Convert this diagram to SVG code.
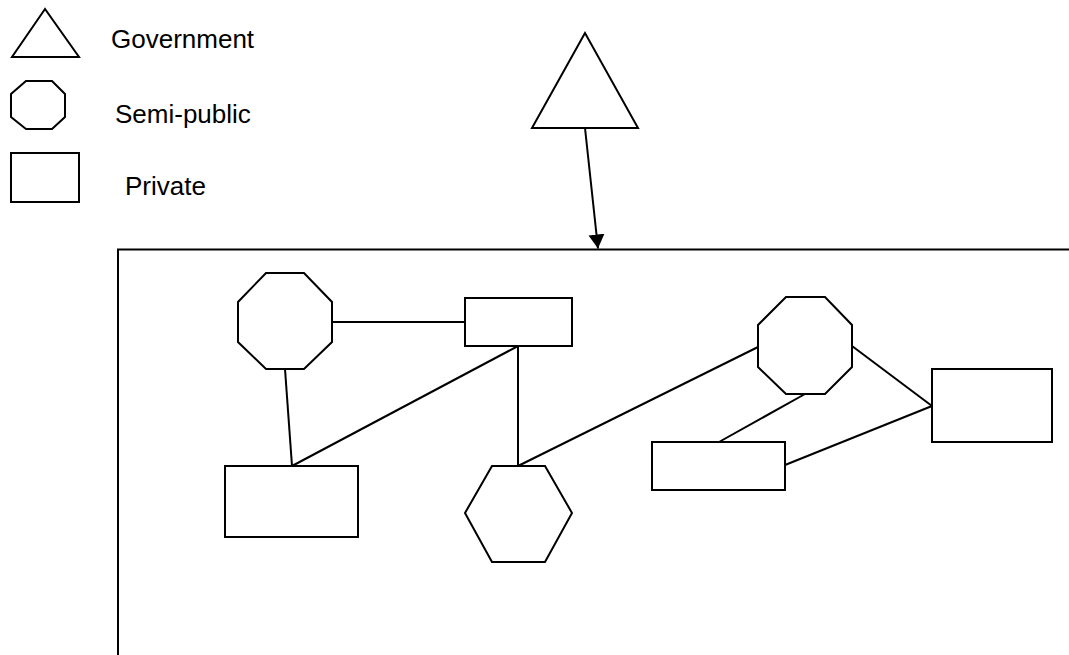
<svg xmlns="http://www.w3.org/2000/svg" width="1069" height="655" viewBox="0 0 1069 655">
<style>
.s{fill:#fff;stroke:#000;stroke-width:2;stroke-linejoin:miter}
.c{stroke:#000;stroke-width:2;fill:none}
.t{font-family:"Liberation Sans",Arial,sans-serif;font-size:26px;fill:#000}
</style>
<defs>
<marker id="ah" markerUnits="userSpaceOnUse" markerWidth="18" markerHeight="18" refX="14" refY="8" orient="auto">
<path d="M0,0 L14,8 L0,16 z" fill="#000"/>
</marker>
</defs>
<rect width="1069" height="655" fill="#fff"/>
<g id="legend">
<polygon class="s" points="45,9 12,57 79,57"/>
<text class="t" x="111" y="48">Government</text>
<polygon class="s" points="26,81 52,81 65,94 65,117 52,129 26,129 11,117 11,94"/>
<text class="t" x="115" y="123">Semi-public</text>
<rect class="s" x="11" y="153" width="68" height="49"/>
<text class="t" x="125" y="195">Private</text>
</g>
<g id="frame"><rect class="s" x="118" y="249.5" width="1000" height="500"/></g>
<g id="connectors">
<line class="c" x1="585" y1="128" x2="598" y2="248.5" marker-end="url(#ah)"/>
<line class="c" x1="332" y1="322" x2="465" y2="322"/>
<line class="c" x1="285" y1="369" x2="292" y2="466"/>
<line class="c" x1="518" y1="346" x2="292" y2="466"/>
<line class="c" x1="518" y1="346" x2="518" y2="466"/>
<line class="c" x1="518" y1="466" x2="758" y2="347"/>
<line class="c" x1="852" y1="346" x2="932" y2="406"/>
<line class="c" x1="805" y1="394" x2="719" y2="442"/>
<line class="c" x1="785" y1="465" x2="932" y2="406"/>
</g>
<g id="gov"><polygon class="s" points="585,33 532,128 638,128"/></g>
<g id="semi1"><polygon class="s" points="266,273 304,273 332,302 332,342 304,369 266,369 238,342 238,302"/></g>
<g id="priv1"><rect class="s" x="465" y="298" width="107" height="48"/></g>
<g id="priv2"><rect class="s" x="225" y="466" width="133" height="71"/></g>
<g id="hex"><polygon class="s" points="492,466 545,466 572,513 545,562 492,562 465,513"/></g>
<g id="semi2"><polygon class="s" points="786,297 825,297 852,325 852,367 825,394 786,394 758,367 758,325"/></g>
<g id="priv3"><rect class="s" x="932" y="369" width="120" height="73"/></g>
<g id="priv4"><rect class="s" x="652" y="442" width="133" height="48"/></g>
</svg>
